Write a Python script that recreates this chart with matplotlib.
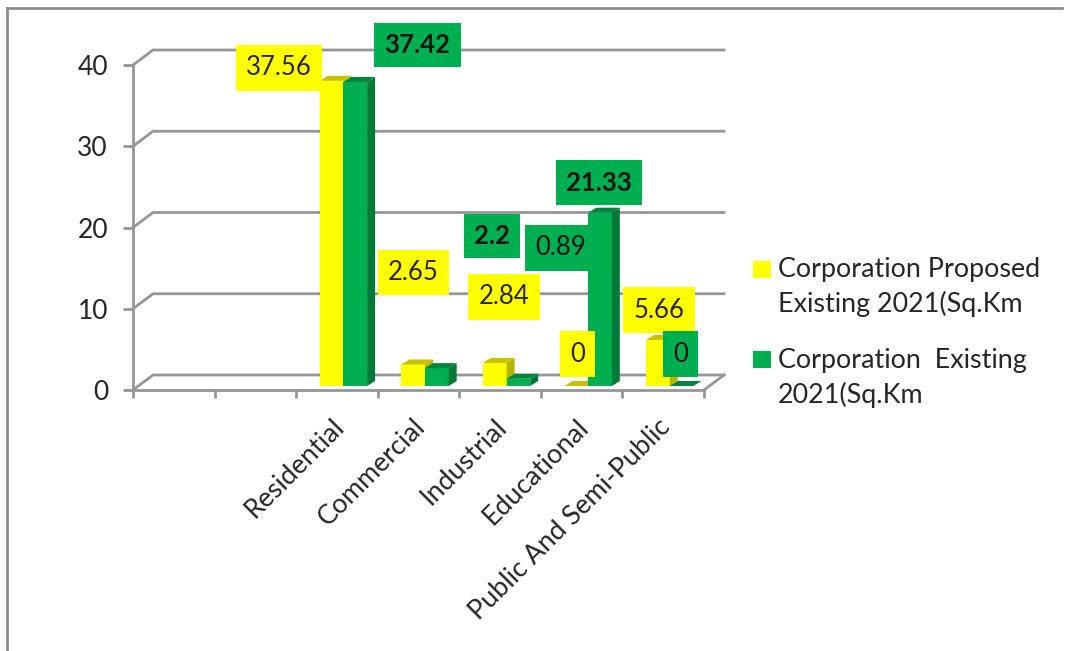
import matplotlib
matplotlib.use("Agg")
import matplotlib.pyplot as plt
from matplotlib.patches import Polygon, Rectangle

categories = ["", "", "Residential", "Commercial", "Industrial", "Educational", "Public And Semi-Public"]
proposed = [None, None, 37.56, 2.65, 2.84, 0, 5.66]
existing = [None, None, 37.42, 2.2, 0.89, 21.33, 0]
yticks = [0, 10, 20, 30, 40]
legend_names = ["Corporation Proposed\nExisting 2021(Sq.Km", "Corporation  Existing\n2021(Sq.Km"]

YELLOW = "#ffff00"
YELLOW_SIDE = "#b5b500"
YELLOW_TOP = "#c8c000"
GREEN = "#00b050"
GREEN_SIDE = "#007a37"
GREEN_TOP = "#00863c"
GRID = "#969696"
TEXT = "#262626"

plt.rcParams["font.family"] = ["Lato", "DejaVu Sans"]

W, H = 1066, 651
fig = plt.figure(figsize=(W / 100, H / 100), dpi=100)
ax = fig.add_axes([133 / W, 1 - 390 / H, 571 / W, 325 / H])
ax.set_xlim(0, 7)
ax.set_ylim(0, 40)
ax.patch.set_visible(False)

# px per data unit
px_x = 571 / 7
px_y = 325 / 40

# depth of the fake 3d, in data units
dx_back = 20 / px_x
dy_back = 15 / px_y
dx_bar = 8 / px_x
dy_bar = 5 / px_y
base = 4 / px_y
bar_w = 0.29

# back wall lines
for t in yticks:
    ax.plot([0, dx_back, 7 + dx_back], [t, t + dy_back, t + dy_back],
            color=GRID, lw=2, clip_on=False, zorder=1)
ax.plot([7, 7 + dx_back], [0, dy_back], color=GRID, lw=2, clip_on=False, zorder=1)


def draw_bar(left, value, front, side, top):
    v = value + base
    ax.add_patch(Rectangle((left, base), bar_w, value, fc=front, ec="none", zorder=3, clip_on=False))
    ax.add_patch(Polygon([(left + bar_w, base), (left + bar_w + dx_bar, base + dy_bar),
                          (left + bar_w + dx_bar, v + dy_bar), (left + bar_w, v)],
                         fc=side, ec="none", zorder=3, clip_on=False))
    ax.add_patch(Polygon([(left, v), (left + dx_bar, v + dy_bar),
                          (left + bar_w + dx_bar, v + dy_bar), (left + bar_w, v)],
                         fc=top, ec="none", zorder=3, clip_on=False))


for i in range(len(categories)):
    if proposed[i] is None:
        continue
    draw_bar(i + 0.29, proposed[i], YELLOW, YELLOW_SIDE, YELLOW_TOP)
    draw_bar(i + 0.29 + bar_w, existing[i], GREEN, GREEN_SIDE, GREEN_TOP)

# data labels, moved by hand like the source chart (pixels from the bar top)
label_offsets_p = [None, None, (-41, 17), (12, 96), (21, 70), (13, 36), (13, 34)]
label_offsets_e = [None, None, (74, 41), (67, 136), (54, 135), (11, 34), (11, 36)]
label_weights_e = [None, None, "bold", "bold", "normal", "bold", "normal"]
for i in range(len(categories)):
    if proposed[i] is None:
        continue
    ax.annotate(str(proposed[i]), (i + 0.29, proposed[i]), xytext=label_offsets_p[i],
                textcoords="offset pixels", fontsize=18.5, ha="center", va="center", zorder=5,
                color=TEXT, annotation_clip=False,
                bbox=dict(boxstyle="square,pad=0.4", fc=YELLOW, ec="none"))
    ax.annotate(str(existing[i]), (i + 0.58, existing[i]), xytext=label_offsets_e[i],
                textcoords="offset pixels", fontsize=18.5, fontweight=label_weights_e[i],
                ha="center", va="center", color="#111111", zorder=5, annotation_clip=False,
                bbox=dict(boxstyle="square,pad=0.4", fc=GREEN, ec="none"))

ax.set_yticks(yticks)
ax.set_xticks(range(8))
ax.set_xticklabels([])
ax.tick_params(axis="y", labelsize=19, labelcolor=TEXT, length=7, width=2, color=GRID, pad=11)
ax.tick_params(axis="x", length=6, width=2, color=GRID)
for s in ["top", "right"]:
    ax.spines[s].set_visible(False)
for s in ["left", "bottom"]:
    ax.spines[s].set_color(GRID)
    ax.spines[s].set_linewidth(2)

for i, name in enumerate(categories):
    if name:
        ax.annotate(name, (i + 0.43, 0), xytext=(0, -24), textcoords="offset pixels", rotation=45,
                    rotation_mode="anchor", ha="right", va="top", fontsize=19.3, color=TEXT,
                    annotation_clip=False)

# legend
fig.patches.append(Rectangle((753 / W, 1 - 278 / H), 18 / W, 17 / H, transform=fig.transFigure, fc=YELLOW, ec="none"))
fig.patches.append(Rectangle((753 / W, 1 - 368 / H), 18 / W, 17 / H, transform=fig.transFigure, fc=GREEN, ec="none"))
fig.text(778 / W, 1 - 287 / H, legend_names[0], fontsize=19.4, va="center", linespacing=1.38, color=TEXT)
fig.text(778 / W, 1 - 378 / H, legend_names[1], fontsize=19.4, va="center", linespacing=1.38, color=TEXT)

# outer frame
fig.add_artist(plt.Line2D([7 / W, 7 / W], [0, 1 - 8 / H], color="#8c8c8c", lw=2))
fig.add_artist(plt.Line2D([7 / W, 1062 / W], [1 - 8 / H, 1 - 8 / H], color="#8c8c8c", lw=2))

fig.savefig("out.png", dpi=100)
